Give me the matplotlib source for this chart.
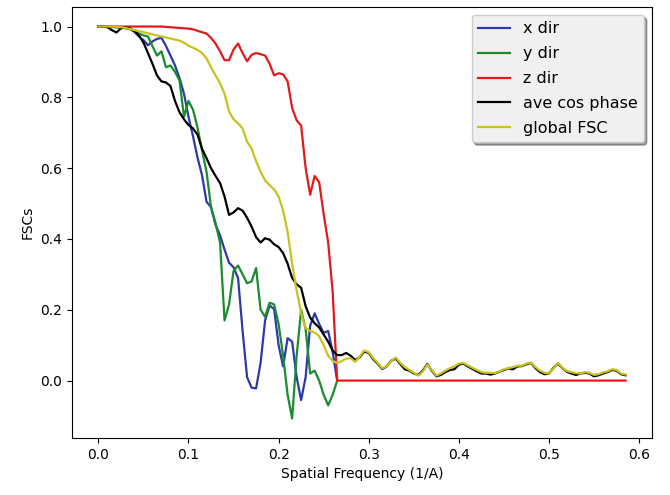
import numpy as np
import matplotlib
matplotlib.use('Agg')
import matplotlib.pyplot as plt

# Spatial frequency grid (1/A), step 0.005 from 0 to 0.585
freq = np.arange(118) * 0.005

# x dir FSC (up to 0.265, hidden under the red line afterwards)
x_dir = [1.0, 1.0, 1.0, 0.999, 0.998, 0.997, 0.996, 0.994, 0.985, 0.972,
         0.962, 0.947, 0.958, 0.965, 0.968, 0.945, 0.918, 0.89, 0.855, 0.81,
         0.745, 0.69, 0.63, 0.58, 0.505, 0.49, 0.44, 0.41, 0.37, 0.333,
         0.32, 0.29, 0.141, 0.01, -0.02, -0.022, 0.05, 0.17, 0.212, 0.202,
         0.1, 0.04, 0.12, 0.11, 0.01, -0.055, 0.01, 0.155, 0.19, 0.16,
         0.135, 0.14, 0.08, 0.0]

# y dir FSC
y_dir = [1.0, 1.0, 1.0, 0.999, 0.998, 0.997, 0.995, 0.992, 0.988, 0.98,
         0.975, 0.972, 0.945, 0.918, 0.93, 0.885, 0.89, 0.872, 0.848, 0.745,
         0.79, 0.765, 0.715, 0.65, 0.59, 0.49, 0.445, 0.39, 0.17, 0.215,
         0.31, 0.325, 0.3, 0.275, 0.28, 0.318, 0.2, 0.18, 0.22, 0.215,
         0.16, 0.07, -0.04, -0.107, 0.07, 0.2, 0.145, 0.02, 0.028, 0.0,
         -0.04, -0.07, -0.04, 0.0]

# z dir FSC: drops to zero at 0.265
z_dir = [1.0, 1.0, 1.0, 1.0, 1.0, 1.0, 1.0, 1.0, 1.0, 1.0,
         1.0, 1.0, 1.0, 1.0, 1.0, 0.999, 0.998, 0.997, 0.996, 0.995,
         0.994, 0.992, 0.988, 0.984, 0.98, 0.968, 0.952, 0.93, 0.905, 0.905,
         0.935, 0.952, 0.925, 0.902, 0.92, 0.925, 0.922, 0.918, 0.895, 0.862,
         0.868, 0.865, 0.845, 0.77, 0.735, 0.72, 0.60, 0.525, 0.578, 0.56,
         0.47, 0.39, 0.25, 0.0]
z_tail = [0.0] * 64

ave_cos = [1.0, 1.0, 0.998, 0.99, 0.983, 0.995, 0.997, 0.995, 0.987, 0.975,
           0.955, 0.925, 0.895, 0.862, 0.845, 0.842, 0.832, 0.79, 0.758, 0.738,
           0.722, 0.712, 0.695, 0.655, 0.628, 0.60, 0.578, 0.558, 0.52, 0.468,
           0.475, 0.487, 0.48, 0.46, 0.435, 0.405, 0.39, 0.402, 0.398, 0.385,
           0.377, 0.36, 0.33, 0.29, 0.272, 0.262, 0.21, 0.178, 0.162, 0.15,
           0.13, 0.11, 0.085, 0.072, 0.072, 0.078, 0.07, 0.058, 0.066, 0.082,
           0.078, 0.06, 0.048, 0.033, 0.04, 0.056, 0.062, 0.047, 0.032, 0.028,
           0.02, 0.016, 0.028, 0.047, 0.028, 0.012, 0.016, 0.024, 0.03, 0.032,
           0.045, 0.048, 0.04, 0.033, 0.026, 0.02, 0.02, 0.017, 0.02, 0.025,
           0.03, 0.034, 0.032, 0.04, 0.041, 0.046, 0.05, 0.035, 0.024, 0.018,
           0.02, 0.036, 0.048, 0.035, 0.025, 0.02, 0.016, 0.02, 0.022, 0.02,
           0.012, 0.015, 0.02, 0.024, 0.03, 0.028, 0.018, 0.015]

global_fsc = [1.0, 1.0, 1.0, 1.0, 0.999, 0.998, 0.996, 0.993, 0.99, 0.987,
              0.984, 0.981, 0.978, 0.975, 0.972, 0.969, 0.966, 0.963, 0.96, 0.954,
              0.946, 0.94, 0.934, 0.925, 0.91, 0.885, 0.862, 0.84, 0.81, 0.76,
              0.738, 0.727, 0.712, 0.675, 0.655, 0.62, 0.59, 0.565, 0.552, 0.54,
              0.52, 0.48, 0.42, 0.33, 0.255, 0.19, 0.148, 0.14, 0.136, 0.125,
              0.10, 0.07, 0.055, 0.05, 0.055, 0.062, 0.063, 0.053, 0.068, 0.085,
              0.08, 0.063, 0.05, 0.035, 0.04, 0.055, 0.065, 0.05, 0.038, 0.03,
              0.022, 0.014, 0.025, 0.045, 0.03, 0.014, 0.02, 0.028, 0.035, 0.04,
              0.048, 0.05, 0.043, 0.036, 0.03, 0.024, 0.022, 0.022, 0.021, 0.026,
              0.032, 0.035, 0.038, 0.042, 0.042, 0.048, 0.051, 0.038, 0.028, 0.022,
              0.02, 0.035, 0.05, 0.036, 0.027, 0.024, 0.021, 0.02, 0.024, 0.022,
              0.016, 0.018, 0.023, 0.026, 0.032, 0.03, 0.02, 0.017]

fig, ax = plt.subplots(figsize=(6.7, 4.95), dpi=100)
fig.subplots_adjust(left=0.1075, right=0.973, bottom=0.115, top=0.986)

n = len(x_dir)
ax.plot(freq[:n], x_dir, color='#2b3aa8', lw=1.6, label='x dir')
ax.plot(freq[:n], y_dir, color='#1a8c2e', lw=1.6, label='y dir')
ax.plot(freq, z_dir + z_tail, color='#e31a1c', lw=1.6, label='z dir')
ax.plot(freq, ave_cos, color='black', lw=1.6, label='ave cos phase')
ax.plot(freq, global_fsc, color='#c8c21e', lw=1.6, label='global FSC')

ax.set_xlabel('Spatial Frequency (1/A)')
ax.set_ylabel('FSCs')

leg = ax.legend(loc='upper right', fontsize=11.5, shadow=True, framealpha=1.0,
                labelspacing=0.62)
leg.get_frame().set_facecolor('#f0f0f0')

plt.savefig('out.png', dpi=100)
